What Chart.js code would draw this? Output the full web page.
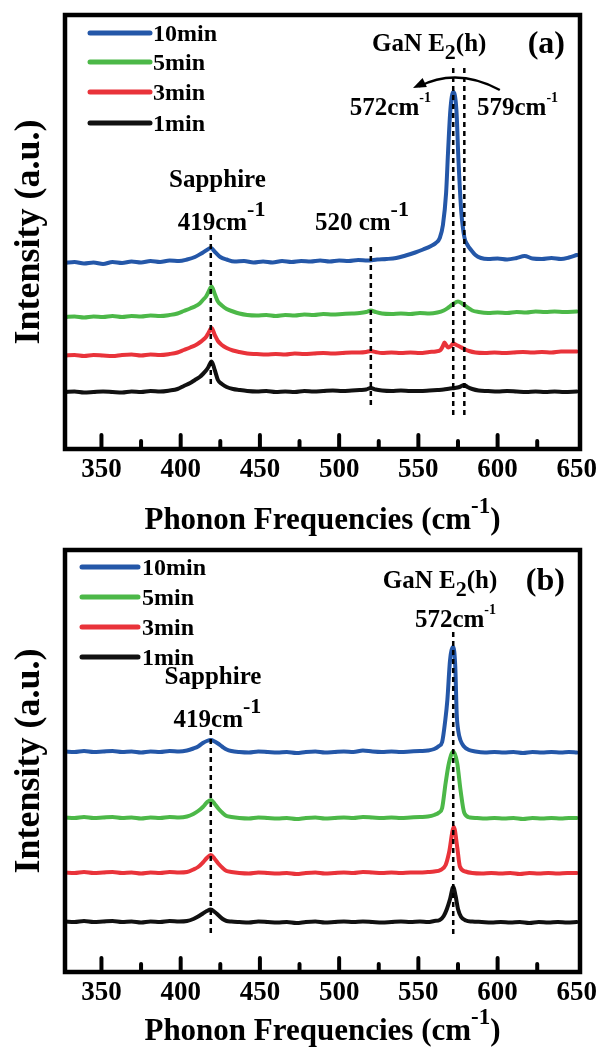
<!DOCTYPE html>
<html><head><meta charset="utf-8">
<script src="https://cdn.jsdelivr.net/npm/chart.js@4.4.1/dist/chart.umd.min.js"></script>
<style>
html,body{margin:0;padding:0;background:#fff;width:598px;height:1053px;overflow:hidden;}
#ca{position:absolute;left:0;top:0;}
#cb{position:absolute;left:0;top:535px;}
</style></head><body>
<canvas id="ca" width="598" height="545"></canvas>
<canvas id="cb" width="598" height="518"></canvas>
<script>
// ---------- data ----------
const tickValues = [350, 400, 450, 500, 550, 600, 650];
const minorTickValues = [375, 425, 475, 525, 575, 625];
const seriesLabels = ['10min', '5min', '3min', '1min'];

// Panel (a): [frequency cm-1, intensity a.u.]
const a10min = [[327,186],[333,187],[339,185.5],[345,186.5],[351,185],[357,187],[363,186],[369,187.5],[375,186.5],[381,188],[387,187],[393,188.5],[399,188],[404,189.5],[409,192],[413,195.5],[416,198.5],[419,201],[422,196.5],[425,192],[429,189.5],[434,187.5],[440,188],[446,186.5],[452,187.5],[458,186.5],[464,188],[470,187],[476,188],[482,187.5],[488,188.5],[494,187.5],[500,188.5],[506,188],[512,189],[518,188.5],[524,189.5],[530,190],[536,191],[542,193.5],[548,196.5],[553,199.5],[558,203],[561,206],[563.5,211],[565.5,224],[567.5,256],[568.7,296],[570.2,339],[572,357],[574,339],[575.3,289],[577,239],[579,212],[581,204],[583.3,199],[586,194],[589.5,191],[594,190],[600,190.5],[606,189.5],[612,191],[617,193],[622,190.5],[628,190],[634,191],[640,190],[645,191.5],[650,194]];
const a5min = [[327,132],[333,132.5],[339,131.5],[345,132.5],[351,132],[357,133],[363,132],[369,133],[375,132.5],[381,133.5],[387,133],[393,134],[398,135.5],[402,138],[406,140.5],[409,142.5],[412,145.5],[414,149],[416,152.5],[417.5,157],[419.5,162.5],[421.5,155],[423.5,147.5],[426,143.5],[429,140],[433,137.5],[437,135.5],[442,134],[448,133.5],[454,134],[460,133],[466,134],[472,133.5],[478,134.5],[484,134],[490,135],[496,134.5],[502,135],[508,135.5],[513,136],[517,137],[520,138.5],[523,137],[527,135.5],[533,135],[539,135.5],[545,135],[551,136],[557,135.5],[562,136.5],[566,138.5],[569,141.5],[572,145],[575,147.5],[578,145],[581,141.5],[584,138.5],[588,137],[594,136],[600,136.5],[606,136],[612,137],[618,136.5],[624,137.5],[630,137],[636,137.5],[642,137],[650,137.5]];
const a3min = [[327,93.5],[333,94],[339,93],[345,94],[351,93.5],[357,93],[363,94],[369,94.5],[375,93.5],[381,94.5],[387,94],[393,95],[398,96.5],[402,99],[406,101.5],[409,103.5],[412,106.5],[414,109],[416,112],[417.5,116],[419.5,121],[421.5,114],[423.5,108],[426,104],[429,101],[433,98.5],[437,97],[442,95.5],[448,95],[454,94.5],[460,95],[466,94.5],[472,95.5],[478,95],[484,95.5],[490,96],[496,95.5],[502,96],[508,96.5],[513,96.5],[517,97],[520,98],[523,97],[527,96],[533,96.5],[539,96],[545,96.5],[551,96],[557,97],[561,97.5],[564,99],[565.5,103],[566.5,106.5],[567.5,104],[569,101.5],[570.5,103],[572,105.5],[574,104],[576,102.5],[579,100],[582,98],[586,96.5],[592,96],[598,96.5],[604,96],[610,96.5],[616,97],[622,96.5],[628,97],[634,96.5],[640,97.5],[650,97.5]];
const a1min = [[327,57],[333,57.5],[339,56.5],[345,57],[351,57.5],[357,57],[363,56.5],[369,57.5],[375,57],[381,58],[387,57.5],[393,58.5],[398,60],[402,63],[406,66],[409,69],[412,72],[414,75],[416,78.5],[417.5,82],[419.5,87.5],[421.5,79],[423.5,69],[426,65],[429,62],[433,60],[437,59],[442,58],[448,57.5],[454,58],[460,57],[466,57.5],[472,57],[478,58],[484,57.5],[490,58],[496,58.5],[502,58],[508,58.5],[513,59],[517,59.5],[520,61],[523,59.5],[527,58.5],[533,58],[539,58.5],[545,58],[551,58],[557,58.5],[562,59],[566,59.5],[570,60.5],[573,61],[576,62],[579,64],[581,62],[584,60],[588,58.5],[594,58],[600,57.5],[606,58],[612,57.5],[618,57],[624,57.5],[630,57],[636,57.5],[642,57],[650,57.5]];

// Panel (b)
const b10min = [[327,220.5],[333,220],[339,221],[345,220],[351,220.5],[357,221],[363,220],[369,220.5],[375,219.5],[381,220.5],[387,220],[393,221],[399,220.5],[404,221.5],[408,223.5],[411,225.5],[414,229],[416.5,231],[419,232],[421.5,230.5],[424,228],[426.5,225],[429,222.5],[432,221],[437,220],[443,219.5],[449,220.5],[455,220],[461,219.5],[467,220],[473,219],[479,220],[485,220.5],[491,219.5],[497,220],[503,220.5],[509,220],[515,221.5],[521,220.5],[527,220],[533,220.5],[539,220],[545,220.5],[551,221],[556,221.5],[560,223],[563,226],[565,230],[567,252],[568.3,272],[570,312],[572,325],[573.3,305],[574.2,258],[575.3,240],[576.5,232],[578.5,226],[582,222],[586,220.5],[592,219.5],[598,220],[604,219.5],[610,220],[616,219],[622,220],[628,219.5],[634,220],[640,219.5],[645,220],[650,219.5]];
const b5min = [[327,154.5],[333,154],[339,155],[345,154],[351,154.5],[357,155],[363,154],[369,154.5],[375,153.5],[381,154.5],[387,154],[393,155],[399,154.5],[404,155.5],[408,158],[411,161],[414,165],[416.5,169.5],[419,172],[421.5,168],[424,163],[426.5,159],[429,156],[432,155],[437,154],[443,153.5],[449,154.5],[455,154],[461,153.5],[467,154],[473,153],[479,154],[485,154.5],[491,153.5],[497,154],[503,154.5],[509,154],[515,155],[521,154.5],[527,154],[533,154.5],[539,154],[545,154.5],[551,155],[556,155.5],[560,157],[563,159.5],[565,164],[567.2,189],[569.3,209],[572,220.5],[574.5,209],[576.6,182],[579,159],[582.6,154.5],[587,154],[592,153.5],[598,154],[604,153.5],[610,154],[616,153],[622,154],[628,153.5],[634,154],[640,153.5],[645,154],[650,154]];
const b3min = [[327,99.5],[333,99],[339,100],[345,99],[351,99.5],[357,100],[363,99],[369,99.5],[375,98.5],[381,99.5],[387,99],[393,100],[399,99.5],[404,100],[408,102.5],[411,105],[414,109.5],[416.5,114],[419,117],[421.5,113],[424,108],[426.5,104],[429,101],[432,100],[437,99],[443,98.5],[449,99.5],[455,99],[461,98.5],[467,99],[473,98],[479,99],[485,99.5],[491,98.5],[497,99],[503,99.5],[509,99],[515,100],[521,99.5],[527,99],[533,99.5],[539,99],[545,99.5],[551,99.5],[556,100],[560,100.5],[564,102],[567.2,107],[569.3,119],[572.4,145],[574.5,125],[576.2,105.5],[579.7,100.5],[584,99],[590,98.5],[596,99],[602,98.5],[608,99],[614,98],[620,99],[626,98.5],[632,99],[638,98.5],[644,99],[650,99]];
const b1min = [[327,50.5],[333,50],[339,51],[345,50],[351,50.5],[357,51],[363,50],[369,50.5],[375,49.5],[381,50.5],[387,50],[393,51],[399,50.5],[404,51],[408,53],[411,55.5],[414,58.5],[416.5,61],[419,62.5],[421.5,60],[424,56.5],[426.5,53],[429,51],[432,50.5],[437,50],[443,49.5],[449,50.5],[455,50],[461,49.5],[467,50],[473,49],[479,50],[485,50.5],[491,49.5],[497,50],[503,50.5],[509,50],[515,50.5],[521,50],[527,49.5],[533,50],[539,50.5],[545,50],[551,50.5],[556,50],[560,51],[563.5,52],[566,56],[568,63],[570,73],[572,85],[573.5,76],[575,63],[577,55],[580,51.5],[584,50.5],[590,50],[596,49.5],[602,50],[608,49.5],[614,50],[620,49],[626,50],[632,49.5],[638,50],[644,49.5],[650,50]];

// reference lines (frequency, intensity span)
const markersA = [[419, 214, 61], [520, 202, 42], [572, 381, 34], [579, 381, 34]];
const markersB = [[419, 242, 37], [572, 340, 35]];

// ---------- styles ----------
const FONT = '"Liberation Serif", "Times New Roman", serif';
const colors = ['#2457a8', '#4cb848', '#e9333a', '#111111'];

function rich(ctx, segs, x, y, align) {
  let w = 0;
  segs.forEach(s => { ctx.font = 'bold ' + s.s + 'px ' + FONT; w += ctx.measureText(s.t).width; });
  let cx = align === 'center' ? x - w / 2 : (align === 'right' ? x - w : x);
  ctx.textAlign = 'left'; ctx.textBaseline = 'alphabetic'; ctx.fillStyle = '#000';
  segs.forEach(s => {
    ctx.font = 'bold ' + s.s + 'px ' + FONT;
    ctx.fillText(s.t, cx, y + (s.dy || 0));
    cx += ctx.measureText(s.t).width;
  });
}

const decor = {
  id: 'decor',
  afterDatasetsDraw(chart, args, o) {
    const ctx = chart.ctx, a = chart.chartArea, xs = chart.scales.x, ys = chart.scales.y;
    ctx.save();
    // dashed reference lines
    ctx.strokeStyle = '#000'; ctx.lineWidth = 2.5; ctx.setLineDash([5, 4]); ctx.lineCap = 'butt';
    o.markers.forEach(m => {
      const px = xs.getPixelForValue(m[0]);
      ctx.beginPath(); ctx.moveTo(px, ys.getPixelForValue(m[1])); ctx.lineTo(px, ys.getPixelForValue(m[2])); ctx.stroke();
    });
    ctx.setLineDash([]);
    // arrow
    if (o.arrow) {
      const P = p => [xs.getPixelForValue(p[0]), ys.getPixelForValue(p[1])];
      const s = P(o.arrow[0]), c = P(o.arrow[1]), e = P(o.arrow[2]);
      ctx.lineWidth = 2.5; ctx.beginPath(); ctx.moveTo(s[0], s[1]); ctx.quadraticCurveTo(c[0], c[1], e[0] + 6, e[1] - 1.5); ctx.stroke();
      const ang = Math.atan2(e[1] - c[1], e[0] - c[0]);
      ctx.fillStyle = '#000'; ctx.beginPath();
      ctx.moveTo(e[0], e[1]);
      ctx.lineTo(e[0] - 13 * Math.cos(ang) + 5 * Math.sin(ang), e[1] - 13 * Math.sin(ang) - 5 * Math.cos(ang));
      ctx.lineTo(e[0] - 13 * Math.cos(ang) - 5 * Math.sin(ang), e[1] - 13 * Math.sin(ang) + 5 * Math.cos(ang));
      ctx.closePath(); ctx.fill();
    }
    // frame
    ctx.lineWidth = 4.5; ctx.strokeStyle = '#000';
    ctx.strokeRect(a.left, a.top, a.right - a.left, a.bottom - a.top);
    // inward ticks
    ctx.lineWidth = 4; ctx.lineCap = 'round';
    tickValues.slice(0, -1).forEach(v => { const px = xs.getPixelForValue(v); ctx.beginPath(); ctx.moveTo(px, a.bottom); ctx.lineTo(px, a.bottom - 14); ctx.stroke(); });
    minorTickValues.forEach(v => { const px = xs.getPixelForValue(v); ctx.beginPath(); ctx.moveTo(px, a.bottom); ctx.lineTo(px, a.bottom - 8); ctx.stroke(); });
    // legend
    const L = o.legend;
    chart.data.datasets.forEach((d, i) => {
      const y = L.rows[i];
      ctx.strokeStyle = d.borderColor; ctx.lineWidth = 5; ctx.lineCap = 'round';
      ctx.beginPath(); ctx.moveTo(L.x0, y); ctx.lineTo(L.x1, y); ctx.stroke();
      rich(ctx, [{ t: d.label, s: 24 }], L.tx, y + 8, 'left');
    });
    // annotations
    o.texts.forEach(t => rich(ctx, t.segs, xs.getPixelForValue(t.x), ys.getPixelForValue(t.y), t.align));
    // x title
    rich(ctx, [{ t: 'Phonon Frequencies (cm', s: 31 }, { t: '-1', s: 23, dy: -16 }, { t: ')', s: 31 }],
      (a.left + a.right) / 2, a.bottom + o.titleOffset, 'center');
    ctx.restore();
  }
};

function panel(id, series, yMax, xHeight, cfg) {
  return new Chart(document.getElementById(id), {
    type: 'line',
    data: {
      datasets: series.map((s, i) => ({
        label: seriesLabels[i],
        data: s.map(p => ({ x: p[0], y: p[1] })),
        borderColor: colors[i], borderWidth: 4, pointRadius: 0,
        cubicInterpolationMode: 'monotone', borderCapStyle: 'round', borderJoinStyle: 'round', fill: false
      }))
    },
    options: {
      responsive: false, animation: false, devicePixelRatio: 1,
      layout: { padding: { left: 0, right: 18, top: 15, bottom: 0 } },
      plugins: { legend: { display: false }, tooltip: { enabled: false }, decor: cfg },
      scales: {
        x: {
          type: 'linear', min: 327, max: 652,
          afterBuildTicks: s => { s.ticks = tickValues.map(v => ({ value: v })); },
          afterFit: s => { s.height = xHeight; s.paddingLeft = 0; s.paddingRight = 0; },
          ticks: { autoSkip: false, maxRotation: 0, padding: 5, color: '#000', font: { family: FONT, size: 27, weight: 'bold' }, callback: v => String(v) },
          grid: { display: false, drawTicks: false }, border: { display: false }
        },
        y: {
          min: 0, max: yMax,
          afterFit: s => { s.width = 65; s.paddingTop = 0; s.paddingBottom = 0; },
          ticks: { display: false }, grid: { display: false }, border: { display: false },
          title: { display: true, text: 'Intensity (a.u.)', color: '#000', font: { family: FONT, size: 36, weight: 'bold' }, padding: { top: 8, bottom: 0 } }
        }
      }
    },
    plugins: [decor]
  });
}

const GaN = [{ t: 'GaN E', s: 25 }, { t: '2', s: 22, dy: 8 }, { t: '(h)', s: 25 }];
panel('ca', [a10min, a5min, a3min, a1min], 434, 96, {
  markers: markersA,
  arrow: [[601.4, 359], [574.4, 382], [546.6, 361]],
  legend: { x0: 90, x1: 150, tx: 153, rows: [33, 62, 92, 123] },
  titleOffset: 80,
  texts: [
    { x: 423.2, y: 262, align: 'center', segs: [{ t: 'Sapphire', s: 25 }] },
    { x: 425.8, y: 219, align: 'center', segs: [{ t: '419cm', s: 25 }, { t: '-1', s: 22, dy: -14 }] },
    { x: 484.7, y: 219, align: 'left', segs: [{ t: '520 cm', s: 25 }, { t: '-1', s: 22, dy: -14 }] },
    { x: 520.7, y: 398, align: 'left', segs: GaN },
    { x: 642.5, y: 396, align: 'right', segs: [{ t: '(a)', s: 32 }] },
    { x: 557.9, y: 334, align: 'right', segs: [{ t: '572cm', s: 25 }, { t: '-1', s: 14, dy: -13 }] },
    { x: 587, y: 334, align: 'left', segs: [{ t: '579cm', s: 25 }, { t: '-1', s: 14, dy: -13 }] }
  ]
});
panel('cb', [b10min, b5min, b3min, b1min], 422, 81, {
  markers: markersB,
  arrow: null,
  legend: { x0: 82, x1: 138, tx: 142, rows: [32, 62, 92, 122] },
  titleOffset: 68,
  texts: [
    { x: 420.4, y: 288, align: 'center', segs: [{ t: 'Sapphire', s: 25 }] },
    { x: 423.2, y: 245, align: 'center', segs: [{ t: '419cm', s: 25 }, { t: '-1', s: 22, dy: -14 }] },
    { x: 527.6, y: 384, align: 'left', segs: GaN },
    { x: 642.5, y: 382, align: 'right', segs: [{ t: '(b)', s: 32 }] },
    { x: 547.8, y: 345, align: 'left', segs: [{ t: '572cm', s: 25 }, { t: '-1', s: 14, dy: -13 }] }
  ]
});
</script>
</body></html>
